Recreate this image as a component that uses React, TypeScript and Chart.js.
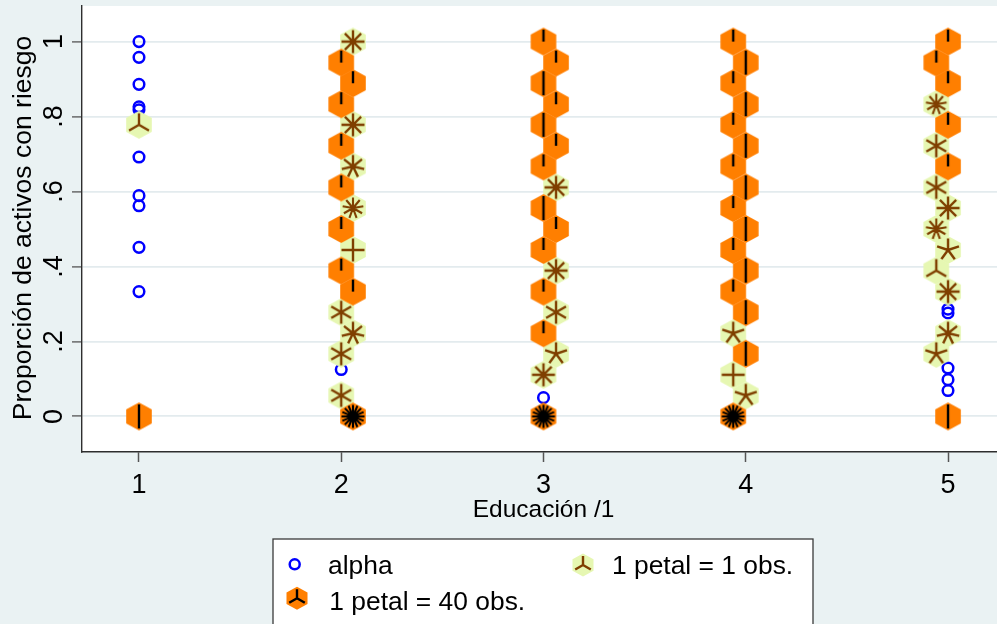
import { useEffect, useRef } from "react";
import { Chart, registerables } from "chart.js";

Chart.register(...registerables);

const FONT = '"Liberation Sans", Arial, Helvetica, sans-serif';

// Axis ticks
const xTicks = [1, 2, 3, 4, 5];
const yTicks = [0, 0.2, 0.4, 0.6, 0.8, 1];
const yTickLabels = ["0", ".2", ".4", ".6", ".8", "1"];

const xTitle = "Educación /1";
const yTitle = "Proporción de activos con riesgo";

// Individual observations (plotted as hollow circles)
const alphaX = [1, 1, 1, 1, 1, 1, 1, 1, 1, 1, 2, 3, 5, 5, 5, 5, 5];
const alphaY = [1.0, 0.958, 0.886, 0.826, 0.818, 0.692, 0.589, 0.562, 0.451, 0.333, 0.125, 0.05, 0.286, 0.276, 0.129, 0.098, 0.069];

// Light sunflowers: 1 petal = 1 obs.
const lightX = [1.0, 2.058, 2.058, 2.058, 2.058, 2.058, 2.0, 2.058, 2.0, 2.0, 3.062, 3.062, 3.062, 3.062, 3.0, 3.938, 3.938, 4.0, 4.942, 4.942, 4.942, 5.0, 4.942, 5.0, 4.942, 5.0, 5.0, 4.942];
const lightY = [0.778, 1.0, 0.778, 0.667, 0.556, 0.444, 0.278, 0.222, 0.167, 0.056, 0.611, 0.389, 0.278, 0.167, 0.111, 0.222, 0.111, 0.056, 0.833, 0.722, 0.611, 0.556, 0.5, 0.444, 0.389, 0.333, 0.222, 0.167];
const lightPetals = [3, 8, 8, 7, 9, 4, 6, 7, 6, 6, 8, 8, 6, 5, 8, 5, 4, 5, 9, 6, 6, 8, 9, 5, 3, 8, 7, 5];

// Dark sunflowers: 1 petal = 40 obs.
const darkX = [
  1.0,
  2.0, 2.058, 2.0, 2.0, 2.0, 2.0, 2.0, 2.058, 2.058,
  3.0, 3.062, 3.0, 3.062, 3.0, 3.062, 3.0, 3.0, 3.062, 3.0, 3.0, 3.0, 3.0,
  3.938, 4.0, 3.938, 4.0, 3.938, 4.0, 3.938, 4.0, 3.938, 4.0, 3.938, 4.0, 3.938, 4.0, 4.0, 3.938,
  5.0, 4.942, 5.0, 5.0, 5.0, 5.0,
];
const darkY = [
  0,
  0.944, 0.889, 0.833, 0.722, 0.611, 0.5, 0.389, 0.333, 0,
  1.0, 0.944, 0.889, 0.833, 0.778, 0.722, 0.667, 0.556, 0.5, 0.444, 0.333, 0.222, 0,
  1.0, 0.944, 0.889, 0.833, 0.778, 0.722, 0.667, 0.611, 0.556, 0.5, 0.444, 0.389, 0.333, 0.278, 0.167, 0,
  1.0, 0.944, 0.889, 0.778, 0.667, 0,
];
const darkPetals = [
  2,
  1, 1, 1, 1, 1, 1, 1, 1, 16,
  1, 1, 2, 1, 2, 1, 1, 2, 1, 1, 1, 1, 16,
  1, 2, 1, 2, 1, 2, 1, 2, 1, 2, 1, 2, 1, 2, 2, 16,
  1, 1, 1, 1, 1, 2,
];

const LIGHT_FILL = "#E6F7B2";
const LIGHT_PETAL = "#7F3F00";
const DARK_FILL = "#FF7F00";
const DARK_PETAL = "#000000";
const BG = "#EAF2F3";

function hexPath(ctx: CanvasRenderingContext2D, cx: number, cy: number, hw: number, hh: number) {
  ctx.beginPath();
  ctx.moveTo(cx, cy - hh);
  ctx.lineTo(cx + hw, cy - hh / 2);
  ctx.lineTo(cx + hw, cy + hh / 2);
  ctx.lineTo(cx, cy + hh);
  ctx.lineTo(cx - hw, cy + hh / 2);
  ctx.lineTo(cx - hw, cy - hh / 2);
  ctx.closePath();
}

function drawFlower(
  ctx: CanvasRenderingContext2D,
  cx: number,
  cy: number,
  petals: number,
  fill: string,
  stroke: string,
  hw: number,
  hh: number,
  len: number,
  lw: number
) {
  hexPath(ctx, cx, cy, hw, hh);
  ctx.fillStyle = fill;
  ctx.fill();
  ctx.beginPath();
  for (let i = 0; i < petals; i++) {
    const a = -Math.PI / 2 + (i * 2 * Math.PI) / petals;
    ctx.moveTo(cx, cy);
    ctx.lineTo(cx + len * Math.cos(a), cy + len * Math.sin(a));
  }
  ctx.strokeStyle = stroke;
  ctx.lineWidth = lw;
  ctx.lineCap = "butt";
  ctx.stroke();
}

function flowerImage(petals: number, light: boolean): HTMLCanvasElement {
  const c = document.createElement("canvas");
  c.width = 30;
  c.height = 32;
  const ctx = c.getContext("2d")!;
  const many = petals > 8;
  drawFlower(
    ctx,
    15,
    16,
    petals,
    light ? LIGHT_FILL : DARK_FILL,
    light ? LIGHT_PETAL : DARK_PETAL,
    12.8,
    14,
    light ? (many ? 10.5 : 11.5) : many ? 11.5 : 12,
    many ? 2.1 : 2.4
  );
  return c;
}

function toPoints(xs: number[], ys: number[]) {
  return xs.map((x, i) => ({ x, y: ys[i] }));
}

export default function App() {
  const ref = useRef<HTMLCanvasElement | null>(null);

  useEffect(() => {
    const canvas = ref.current;
    if (!canvas) return;

    const lightImgs = lightPetals.map((n) => flowerImage(n, true));
    const darkImgs = darkPetals.map((n) => flowerImage(n, false));

    const background = {
      id: "background",
      beforeDraw(chart: any) {
        const { ctx, chartArea } = chart;
        ctx.save();
        ctx.fillStyle = BG;
        ctx.fillRect(0, 0, chart.width, chart.height);
        ctx.fillStyle = "#FFFFFF";
        ctx.fillRect(chartArea.left, chartArea.top, chartArea.right - chartArea.left, chartArea.bottom - chartArea.top);
        ctx.restore();
      },
    };

    const labels = {
      id: "labels",
      afterDraw(chart: any) {
        const { ctx, chartArea } = chart;
        const xs = chart.scales.x;
        const ys = chart.scales.y;
        ctx.save();
        ctx.fillStyle = "#000000";
        ctx.textBaseline = "alphabetic";
        ctx.textAlign = "center";

        // x tick labels
        ctx.font = `27px ${FONT}`;
        xTicks.forEach((v) => ctx.fillText(String(v), xs.getPixelForValue(v), chartArea.bottom + 41));

        // x title
        ctx.font = `24.5px ${FONT}`;
        ctx.fillText(xTitle, (chartArea.left + chartArea.right) / 2, chartArea.bottom + 64.5);

        // y tick labels (rotated)
        ctx.font = `27px ${FONT}`;
        yTicks.forEach((v, i) => {
          ctx.save();
          ctx.translate(chartArea.left - 20.3, ys.getPixelForValue(v));
          ctx.rotate(-Math.PI / 2);
          ctx.fillText(yTickLabels[i], 0, 0);
          ctx.restore();
        });

        // y title
        ctx.font = `26.5px ${FONT}`;
        ctx.save();
        ctx.translate(30.5, (chartArea.top + chartArea.bottom) / 2 - 1);
        ctx.rotate(-Math.PI / 2);
        ctx.fillText(yTitle, 0, 0);
        ctx.restore();

        // legend
        const cx = (chartArea.left + chartArea.right) / 2;
        const boxL = cx - 270.5;
        const boxT = chartArea.bottom + 87;
        ctx.fillStyle = "#FFFFFF";
        ctx.fillRect(boxL, boxT, 540, 120);
        ctx.strokeStyle = "#3A3A3A";
        ctx.lineWidth = 1.3;
        ctx.strokeRect(boxL, boxT, 540, 120);

        ctx.beginPath();
        ctx.arc(cx - 248.8, boxT + 25.3, 5, 0, Math.PI * 2);
        ctx.strokeStyle = "#0000FF";
        ctx.lineWidth = 2.5;
        ctx.stroke();

        drawFlower(ctx, cx + 39.5, boxT + 26, 3, LIGHT_FILL, LIGHT_PETAL, 10.5, 11.5, 9, 2.4);
        drawFlower(ctx, cx - 246.5, boxT + 59.3, 3, DARK_FILL, DARK_PETAL, 10.5, 11.5, 9, 2.4);

        ctx.fillStyle = "#000000";
        ctx.textAlign = "left";
        ctx.font = `26.4px ${FONT}`;
        ctx.fillText("alpha", cx - 215.5, boxT + 35.3);
        ctx.fillText("1 petal = 1 obs.", cx + 68.5, boxT + 35.3);
        ctx.fillText("1 petal = 40 obs.", cx - 214.2, boxT + 71);
        ctx.restore();
      },
    };

    const chart = new Chart(canvas, {
      type: "scatter",
      data: {
        datasets: [
          {
            label: "alpha",
            data: toPoints(alphaX, alphaY),
            order: 3,
            pointStyle: "circle",
            pointRadius: 5.3,
            pointBorderWidth: 2.5,
            pointBorderColor: "#0000FF",
            pointBackgroundColor: "rgba(0,0,0,0)",
          },
          {
            label: "1 petal = 1 obs.",
            data: toPoints(lightX, lightY),
            order: 2,
            pointRadius: 14,
            pointStyle: (c: any) => lightImgs[c.dataIndex],
          },
          {
            label: "1 petal = 40 obs.",
            data: toPoints(darkX, darkY),
            order: 1,
            pointRadius: 14,
            pointStyle: (c: any) => darkImgs[c.dataIndex],
          },
        ],
      },
      options: {
        responsive: false,
        devicePixelRatio: 1,
        animation: false,
        events: [],
        layout: { autoPadding: false, padding: { top: 6, left: 0, right: 8, bottom: 188 } },
        plugins: {
          legend: { display: false },
          tooltip: { enabled: false },
          title: { display: false },
        },
        scales: {
          x: {
            type: "linear",
            min: 0.7182,
            max: 5.2818,
            afterBuildTicks: (s: any) => {
              s.ticks = xTicks.map((v) => ({ value: v }));
            },
            afterFit: (s: any) => {
              s.height = 60;
            },
            ticks: { display: false },
            grid: {
              drawOnChartArea: false,
              drawTicks: true,
              tickLength: 10,
              tickColor: "#555555",
              tickWidth: 1.5,
            },
            border: { display: true, color: "#2E2E2E", width: 1.4 },
          },
          y: {
            type: "linear",
            min: -0.095,
            max: 1.095,
            afterBuildTicks: (s: any) => {
              s.ticks = yTicks.map((v) => ({ value: v }));
            },
            afterFit: (s: any) => {
              s.width = 82;
            },
            ticks: { display: false },
            grid: {
              drawOnChartArea: true,
              color: "#E3EBEE",
              lineWidth: 1.8,
              drawTicks: true,
              tickLength: 10,
              tickColor: "#555555",
              tickWidth: 1.3,
            },
            border: { display: true, color: "#2E2E2E", width: 1.4 },
          },
        },
      },
      plugins: [background, labels],
    } as any);

    return () => chart.destroy();
  }, []);

  return (
    <div
      style={{
        position: "fixed",
        left: 0,
        top: 0,
        width: 997,
        height: 624,
        overflow: "hidden",
        background: BG,
      }}
    >
      <canvas ref={ref} width={1013} height={700} style={{ display: "block", width: 1013, height: 700 }} />
    </div>
  );
}
